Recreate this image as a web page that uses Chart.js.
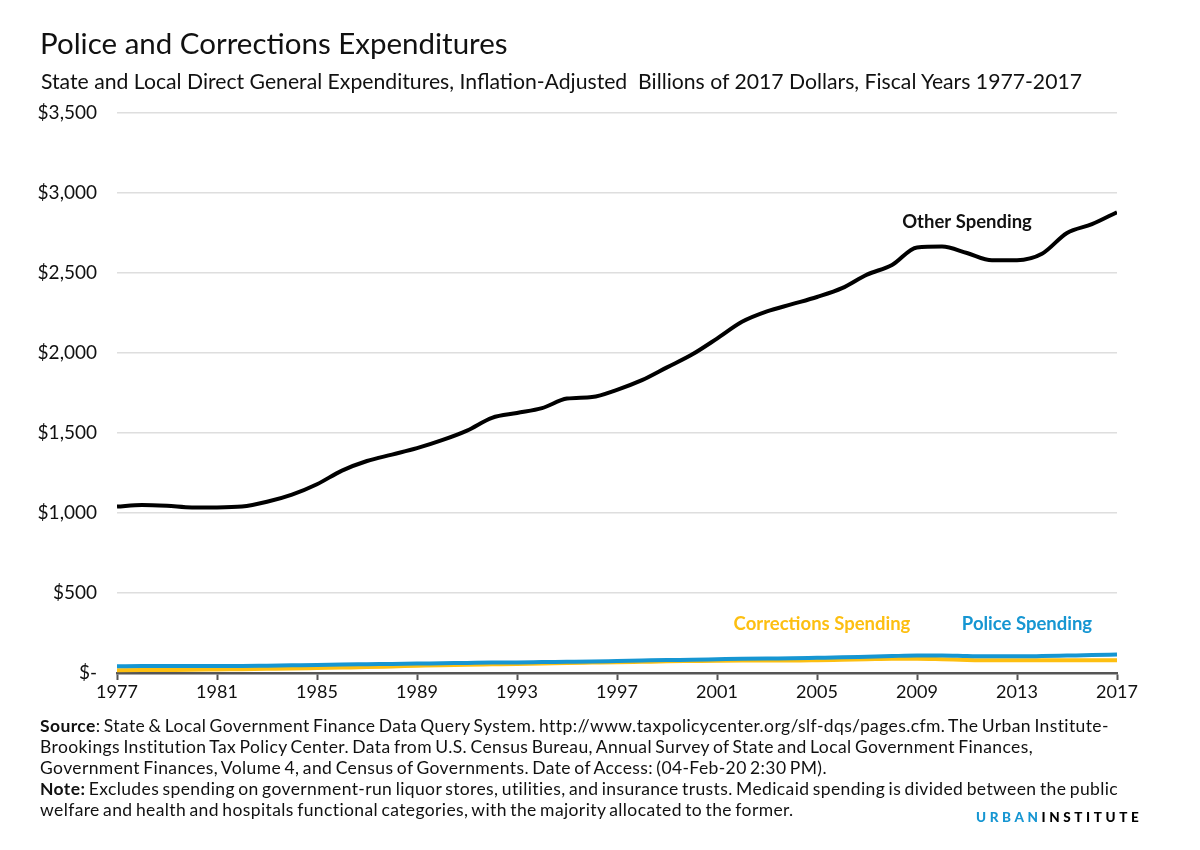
<!DOCTYPE html>
<html>
<head>
<meta charset="utf-8">
<script src="https://cdn.jsdelivr.net/npm/chart.js@4.4.1/dist/chart.umd.min.js"></script>
<style>
  html, body { margin: 0; padding: 0; background: #fff; }
  body { width: 1200px; height: 850px; position: relative; overflow: hidden; font-family: Lato, "Open Sans", sans-serif; color: #000; }
  #wrap { position: absolute; left: 0; top: 0; width: 1200px; height: 850px; }
  .title { position: absolute; left: 40px; top: 25px; font-size: 29.5px; color: #111; white-space: nowrap; }
  .subtitle { position: absolute; left: 41px; top: 68px; font-size: 21.2px; color: #111; white-space: nowrap; }
  .footer { position: absolute; left: 40px; top: 715px; font-size: 17.5px; line-height: 21px; color: #111; white-space: nowrap; letter-spacing: 0.39px; word-spacing: -1.5px; }
  .logo { position: absolute; left: 976px; top: 809px; font-size: 13.5px; font-weight: 900; letter-spacing: 3.6px; white-space: nowrap; }
  .logo .u { color: #1696d2; }
  .logo .i { color: #000; }
</style>
</head>
<body>
<div id="wrap"><canvas id="c" width="1200" height="850"></canvas></div>
<div class="title">Police and Corrections Expenditures</div>
<div class="subtitle">State and Local Direct General Expenditures, Inflation-Adjusted&nbsp; Billions of 2017 Dollars, Fiscal Years 1977-2017</div>
<div class="footer"><b>Source</b>: State &amp; Local Government Finance Data Query System. http://www.taxpolicycenter.org/slf-dqs/pages.cfm. The Urban Institute-<br>Brookings Institution Tax Policy Center. Data from U.S. Census Bureau, Annual Survey of State and Local Government Finances,<br>Government Finances, Volume 4, and Census of Governments. Date of Access: (04-Feb-20 2:30 PM).<br><b>Note:</b> Excludes spending on government-run liquor stores, utilities, and insurance trusts. Medicaid spending is divided between the public<br>welfare and health and hospitals functional categories, with the majority allocated to the former.</div>
<div class="logo"><span class="u">URBAN</span><span class="i">INSTITUTE</span></div>
<script>
const years = [1977,1978,1979,1980,1981,1982,1983,1984,1985,1986,1987,1988,1989,1990,1991,1992,1993,1994,1995,1996,1997,1998,1999,2000,2001,2002,2003,2004,2005,2006,2007,2008,2009,2010,2011,2012,2013,2014,2015,2016,2017];
const otherSpending = [1040,1050,1045,1035,1035,1040,1070,1115,1180,1265,1325,1365,1405,1455,1515,1595,1625,1655,1715,1725,1770,1830,1910,1990,2090,2195,2260,2305,2350,2405,2490,2550,2660,2665,2625,2580,2580,2620,2750,2805,2880];
const policeSpending = [42,43,43,43,43,44,46,48,50,53,55,57,59,61,63,65,66,68,70,72,75,78,81,83,86,89,91,92,95,98,102,106,109,109,106,104,104,106,109,112,116];
const correctionsSpending = [17,18,19,20,22,24,26,28,31,34,37,41,45,49,52,54,56,59,63,65,67,70,73,75,77,78,78,78,80,83,86,89,89,86,82,80,80,80,80,80,79];
const yTickValues = [0,500,1000,1500,2000,2500,3000,3500];
const yTickLabels = ["$-","$500","$1,000","$1,500","$2,000","$2,500","$3,000","$3,500"];
const seriesLabels = [
  { text: "Other Spending", x: 2011, y: 2820, color: "#111111" },
  { text: "Corrections Spending", x: 2005.2, y: 306, color: "#fdbf11" },
  { text: "Police Spending", x: 2013.4, y: 306, color: "#1696d2" }
];

const toPoints = arr => years.map((yr, i) => ({ x: yr, y: arr[i] }));

const labelPlugin = {
  id: 'seriesLabels',
  afterDatasetsDraw(chart) {
    const ctx = chart.ctx;
    const xs = chart.scales.x, ys = chart.scales.y;
    ctx.save();
    ctx.font = 'bold 18.5px Lato, sans-serif';
    ctx.textAlign = 'center';
    ctx.textBaseline = 'middle';
    seriesLabels.forEach(l => {
      ctx.fillStyle = l.color;
      ctx.fillText(l.text, xs.getPixelForValue(l.x), ys.getPixelForValue(l.y));
    });
    ctx.restore();
  }
};

new Chart(document.getElementById('c'), {
  type: 'line',
  data: {
    datasets: [
      { label: 'Other Spending', data: toPoints(otherSpending), borderColor: '#000000', borderWidth: 4, pointRadius: 0, cubicInterpolationMode: 'monotone', order: 3 },
      { label: 'Corrections Spending', data: toPoints(correctionsSpending), borderColor: '#fdbf11', borderWidth: 4, pointRadius: 0, cubicInterpolationMode: 'monotone', order: 2 },
      { label: 'Police Spending', data: toPoints(policeSpending), borderColor: '#1696d2', borderWidth: 4, pointRadius: 0, cubicInterpolationMode: 'monotone', order: 1 }
    ]
  },
  options: {
    responsive: false,
    animation: false,
    layout: { padding: { left: 0, top: 113, right: 83, bottom: 137 } },
    plugins: { legend: { display: false }, tooltip: { enabled: false } },
    scales: {
      x: {
        type: 'linear',
        min: 1977, max: 2017,
        afterBuildTicks: s => { s.ticks = years.filter(y => (y - 1977) % 4 === 0).map(v => ({ value: v })); },
        afterFit: s => { s.height = 40; },
        grid: { drawOnChartArea: false, drawTicks: true, tickLength: 7, tickColor: '#555555', tickWidth: 2 },
        border: { display: true, color: '#555555', width: 2.5 },
        ticks: { callback: v => String(v), color: '#111111', font: { family: 'Lato', size: 18 }, padding: 1, maxRotation: 0, autoSkip: false }
      },
      y: {
        min: 0, max: 3500,
        afterBuildTicks: s => { s.ticks = yTickValues.map(v => ({ value: v })); },
        afterFit: s => { s.width = 117; },
        grid: { color: '#dedede', lineWidth: 1.5, drawTicks: false },
        border: { display: false },
        ticks: { callback: v => yTickLabels[yTickValues.indexOf(v)], color: '#111111', font: { family: 'Lato', size: 19 }, padding: 20 }
      }
    }
  },
  plugins: [labelPlugin]
});
</script>
</body>
</html>
